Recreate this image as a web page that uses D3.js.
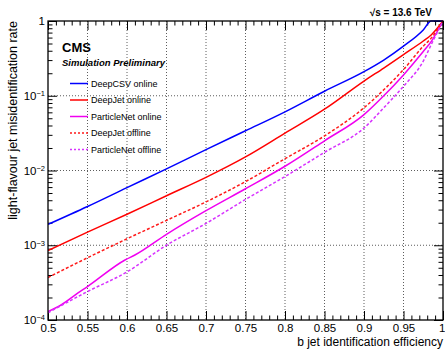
<!DOCTYPE html>
<html>
<head>
<meta charset="utf-8">
<script src="https://cdn.jsdelivr.net/npm/d3@7"></script>
<style>
  body { margin: 0; background: #fff; }
  svg { display: block; font-family: "Liberation Sans", Arial, sans-serif; }
</style>
</head>
<body>
<script>
// Values
var xTickValues = [0.5, 0.55, 0.6, 0.65, 0.7, 0.75, 0.8, 0.85, 0.9, 0.95, 1];
var xTickLabels = ["0.5", "0.55", "0.6", "0.65", "0.7", "0.75", "0.8", "0.85", "0.9", "0.95", "1"];
var yTickValues = [1e-4, 1e-3, 1e-2, 1e-1, 1];
var yTickExponents = [-4, -3, -2, -1, 0];

var effCommon = [0.5, 0.55, 0.6, 0.65, 0.7, 0.75, 0.8, 0.85, 0.9, 0.925, 0.95, 0.975, 0.985, 1.0];
var deepCsvOnline = [1.9e-3, 3.3e-3, 5.9e-3, 0.0105, 0.019, 0.034, 0.061, 0.115, 0.21, 0.30, 0.46, 0.76, 1.0, 1.0];
var deepJetOnline = [8.5e-4, 1.5e-3, 2.6e-3, 4.6e-3, 8.1e-3, 0.0152, 0.0316, 0.066, 0.157, 0.235, 0.355, 0.54, 0.65, 1.0];
var deepJetOffline = [3.7e-4, 6.8e-4, 1.22e-3, 2.15e-3, 3.8e-3, 7.1e-3, 0.0144, 0.029, 0.069, 0.12, 0.224, 0.46, 0.59, 1.0];

var effPNetOnline = [0.5, 0.517, 0.538, 0.55, 0.598, 0.61, 0.65, 0.7, 0.75, 0.8, 0.85, 0.9, 0.925, 0.95, 0.975, 0.985, 1.0];
var pNetOnline = [1.3e-4, 1.6e-4, 2.3e-4, 2.8e-4, 6.4e-4, 7.4e-4, 1.4e-3, 2.9e-3, 5.7e-3, 0.0114, 0.025, 0.056, 0.10, 0.19, 0.39, 0.53, 1.0];
var pNetOffline = [1.25e-4, 2.4e-4, 4.4e-4, 1.0e-3, 1.96e-3, 4.1e-3, 8.3e-3, 0.0175, 0.037, 0.069, 0.134, 0.29, 0.48, 1.0];

var seriesLabels = ["DeepCSV online", "DeepJet online", "ParticleNet online", "DeepJet offline", "ParticleNet offline"];

// Series styles
var series = [
  { label: seriesLabels[0], eff: effCommon, rate: deepCsvOnline, color: "#0000ff", dash: null },
  { label: seriesLabels[1], eff: effCommon, rate: deepJetOnline, color: "#ff0000", dash: null },
  { label: seriesLabels[2], eff: effPNetOnline, rate: pNetOnline, color: "#f000f0", dash: null },
  { label: seriesLabels[3], eff: effCommon, rate: deepJetOffline, color: "#ff1a1a", dash: "3,2" },
  { label: seriesLabels[4], eff: effCommon, rate: pNetOffline, color: "#d733ff", dash: "3,2" }
];

var svgWidth = 445;
var svgHeight = 349;
var frame = { left: 48, right: 443, top: 21, bottom: 320 };

var svg = d3.select("body")
  .append("svg")
  .attr("width", svgWidth)
  .attr("height", svgHeight);

var x = d3.scaleLinear().domain([0.5, 1]).range([frame.left, frame.right]);
var y = d3.scaleLog().domain([1e-4, 1]).range([frame.bottom, frame.top]);

// Dotted grid
var grid = svg.append("g").attr("stroke", "#333").attr("stroke-width", 0.8).attr("stroke-dasharray", "1,2");
grid.selectAll(".gx")
  .data(xTickValues.slice(1, -1))
  .enter().append("line")
  .attr("x1", d => x(d)).attr("x2", d => x(d))
  .attr("y1", frame.top).attr("y2", frame.bottom);
grid.selectAll(".gy")
  .data(yTickValues.slice(1, -1))
  .enter().append("line")
  .attr("x1", frame.left).attr("x2", frame.right)
  .attr("y1", d => y(d)).attr("y2", d => y(d));

// Minor tick values
var xMinor = d3.range(50, 101).filter(d => d % 5 !== 0).map(d => d / 100);
var yMinor = [];
yTickExponents.slice(0, -1).forEach(function(k) {
  for (var m = 2; m <= 9; m++) yMinor.push(m * Math.pow(10, k));
});

function styleAxis(g) {
  g.select(".domain").remove();
  g.selectAll(".tick line").attr("stroke", "#000").attr("stroke-width", 1);
}

// Bottom axis with labels
svg.append("g")
  .attr("transform", "translate(0," + frame.bottom + ")")
  .call(d3.axisBottom(x).tickValues(xTickValues).tickSize(-9).tickPadding(4)
    .tickFormat((d, i) => xTickLabels[i]))
  .call(styleAxis)
  .call(g => g.selectAll("text").attr("font-size", 11.5).attr("fill", "#000")
    .attr("font-family", "'Liberation Sans', Arial, sans-serif"))
  // last label would run off the edge: keep it inside the page
  .call(g => g.selectAll("text").filter(d => d === 1)
    .attr("text-anchor", "end").attr("x", svgWidth - frame.right));
svg.append("g")
  .attr("transform", "translate(0," + frame.bottom + ")")
  .call(d3.axisBottom(x).tickValues(xMinor).tickSize(-4.5).tickFormat(""))
  .call(styleAxis);

// Top axis
svg.append("g")
  .attr("transform", "translate(0," + frame.top + ")")
  .call(d3.axisTop(x).tickValues(xTickValues).tickSize(-9).tickFormat(""))
  .call(styleAxis);
svg.append("g")
  .attr("transform", "translate(0," + frame.top + ")")
  .call(d3.axisTop(x).tickValues(xMinor).tickSize(-4.5).tickFormat(""))
  .call(styleAxis);

// Left axis with 10^k labels
svg.append("g")
  .attr("transform", "translate(" + frame.left + ",0)")
  .call(d3.axisLeft(y).tickValues(yTickValues).tickSize(-9).tickPadding(3)
    .tickFormat(d => d >= 1 ? "1" : "10"))
  .call(styleAxis)
  .call(g => g.selectAll("text")
    .attr("font-size", 11.5).attr("fill", "#000")
    .attr("font-family", "'Liberation Sans', Arial, sans-serif")
    .each(function(d, i) {
      var e = yTickExponents[i];
      if (e === 0) return;
      d3.select(this).append("tspan")
        .attr("dy", "-0.5em")
        .attr("font-size", 7.5)
        .text("\u2212" + Math.abs(e));
    }));
svg.append("g")
  .attr("transform", "translate(" + frame.left + ",0)")
  .call(d3.axisLeft(y).tickValues(yMinor).tickSize(-4.5).tickFormat(""))
  .call(styleAxis);

// Right axis
svg.append("g")
  .attr("transform", "translate(" + frame.right + ",0)")
  .call(d3.axisRight(y).tickValues(yTickValues).tickSize(-9).tickFormat(""))
  .call(styleAxis);
svg.append("g")
  .attr("transform", "translate(" + frame.right + ",0)")
  .call(d3.axisRight(y).tickValues(yMinor).tickSize(-4.5).tickFormat(""))
  .call(styleAxis);

// Curves
svg.append("clipPath").attr("id", "plot-clip")
  .append("rect")
  .attr("x", frame.left).attr("y", frame.top - 1)
  .attr("width", frame.right - frame.left).attr("height", frame.bottom - frame.top + 1);

var drawLine = d3.line()
  .x(d => x(d[0]))
  .y(d => y(d[1]))
  .curve(d3.curveMonotoneX);

svg.append("g").attr("clip-path", "url(#plot-clip)")
  .selectAll("path")
  .data(series)
  .enter().append("path")
  .attr("d", s => drawLine(d3.zip(s.eff, s.rate)))
  .attr("fill", "none")
  .attr("stroke", s => s.color)
  .attr("stroke-width", 1.5)
  .attr("stroke-dasharray", s => s.dash);

// Frame
svg.append("rect")
  .attr("x", frame.left).attr("y", frame.top)
  .attr("width", frame.right - frame.left).attr("height", frame.bottom - frame.top)
  .attr("fill", "none").attr("stroke", "#000").attr("stroke-width", 1.3);

// Legend
var legend = svg.append("g").attr("font-size", 9);
var legendRows = legend.selectAll("g")
  .data(series)
  .enter().append("g")
  .attr("transform", (s, i) => "translate(70," + (83.5 + i * 16.5) + ")");
legendRows.append("line")
  .attr("x1", 0).attr("x2", 18)
  .attr("stroke", s => s.color)
  .attr("stroke-width", 1.5)
  .attr("stroke-dasharray", s => s.dash ? "2,2" : null);
legendRows.append("text")
  .attr("x", 21).attr("dy", "0.35em")
  .attr("fill", "#000")
  .text(s => s.label);

// Labels
svg.append("text")
  .attr("x", 62).attr("y", 52)
  .attr("font-size", 13).attr("font-weight", "bold")
  .text("CMS");
svg.append("text")
  .attr("x", 62).attr("y", 66)
  .attr("font-size", 9.5).attr("font-weight", "bold").attr("font-style", "italic")
  .text("Simulation Preliminary");
svg.append("text")
  .attr("x", 432).attr("y", 16)
  .attr("text-anchor", "end")
  .attr("font-size", 10).attr("font-weight", "bold")
  .text("\u221As =  13.6 TeV");

svg.append("text")
  .attr("x", frame.right).attr("y", 346)
  .attr("text-anchor", "end")
  .attr("font-size", 12)
  .text("b jet identification efficiency");
svg.append("text")
  .attr("transform", "translate(17," + frame.top + ") rotate(-90)")
  .attr("text-anchor", "end")
  .attr("font-size", 12.5)
  .text("light-flavour jet misidentification rate");
</script>
</body>
</html>
